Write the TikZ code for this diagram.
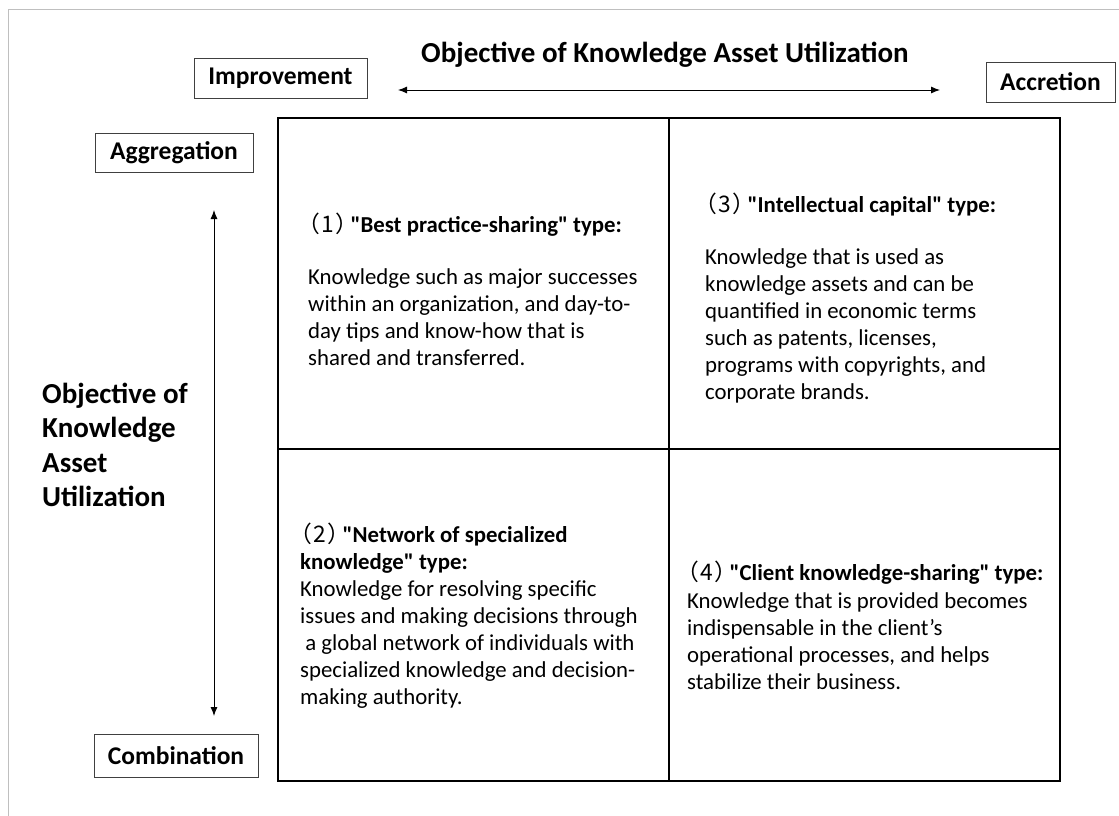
\documentclass[tikz,border=0pt]{standalone}
\usepackage{fontspec}
\setmainfont{Carlito}
\newfontfamily\cjk{Noto Sans CJK JP}[RawFeature=+palt]
\usetikzlibrary{arrows.meta}

% fullwidth brackets round the quadrant number (proportional widths)
\newcommand{\qnum}[1]{{\cjk （\kern2pt#1\kern2pt）}\kern3pt}
\newcommand{\qq}{\textquotedbl}

\begin{document}
\begin{tikzpicture}[x=1pt, y=-1pt,
    namebox/.style={draw=black!75, line width=0.8pt, inner sep=0pt,
        font=\fontsize{25.5}{28}\selectfont\bfseries},
    celltext/.style={align=left, anchor=north west, inner sep=0pt,
        font=\fontsize{22.8}{27}\selectfont},
    axis/.style={{Latex[length=9pt,width=7pt]}-{Latex[length=9pt,width=7pt]}, line width=0.9pt}]
    \useasboundingbox (0,0) rectangle (1119,816);
    % page frame
    \draw[black!25, line width=0.8pt] (8,816) -- (8,9) -- (1119,9);

    % horizontal axis
    \node[font=\fontsize{29}{34}\selectfont\bfseries] (title) at (665,55) {Objective of Knowledge Asset Utilization};
    \node[namebox, minimum width=173pt, minimum height=40pt] (improve) at (280.5,78) {Improvement};
    \node[namebox, minimum width=129pt, minimum height=40pt] (accrete) at (1050.5,82) {Accretion};
    \coordinate (hleft) at (398,90);
    \coordinate (hright) at (940,90);
    \draw[axis] (hleft) -- (hright);

    % vertical axis
    \node[namebox, minimum width=158pt, minimum height=39pt] (aggreg) at (174,152.5) {Aggregation};
    \node[namebox, minimum width=164pt, minimum height=43pt] (combin) at (176,756) {Combination};
    \coordinate (vtop) at (214,210);
    \coordinate (vbot) at (214,716);
    \draw[axis] (vtop) -- (vbot);
    \node[align=left, anchor=north west, inner sep=0pt,
        font=\fontsize{29}{34.3}\selectfont\bfseries] (vtitle) at (42,383)
        {Objective of\\Knowledge\\Asset\\Utilization};

    % the four quadrants
    \coordinate (nw) at (278,118);
    \coordinate (se) at (1060,781);
    \coordinate (mid) at (669,449);
    \draw[line width=1.6pt] (nw -| mid) -- (se -| mid);
    \draw[line width=1.6pt] (nw |- mid) -- (se |- mid);
    \draw[line width=2.8pt] (nw) rectangle (se);

    \node[celltext] (best) at (308,213)
        {\qnum{1}\textbf{\qq Best practice-sharing\qq{} type:}\\[25pt]
         Knowledge such as major successes\\
         within an organization, and day-to-\\
         day tips and know-how that is\\
         shared and transferred.};
    \node[celltext] (intel) at (705,193)
        {\qnum{3}\textbf{\qq Intellectual capital\qq{} type:}\\[25pt]
         Knowledge that is used as\\
         knowledge assets and can be\\
         quantified in economic terms\\
         such as patents, licenses,\\
         programs with copyrights, and\\
         corporate brands.};
    \node[celltext] (network) at (300,523)
        {\qnum{2}\textbf{\qq Network of specialized}\\
         \textbf{knowledge\qq{} type:}\\
         Knowledge for resolving specific\\
         issues and making decisions through\\
         \ a global network of individuals with\\
         specialized knowledge and decision-\\
         making authority.};
    \node[celltext] (client) at (687,561)
        {\qnum{4}\textbf{\qq Client knowledge-sharing\qq{} type:}\\[1pt]
         Knowledge that is provided becomes\\
         indispensable in the client’s\\
         operational processes, and helps\\
         stabilize their business.};
\end{tikzpicture}
\end{document}
